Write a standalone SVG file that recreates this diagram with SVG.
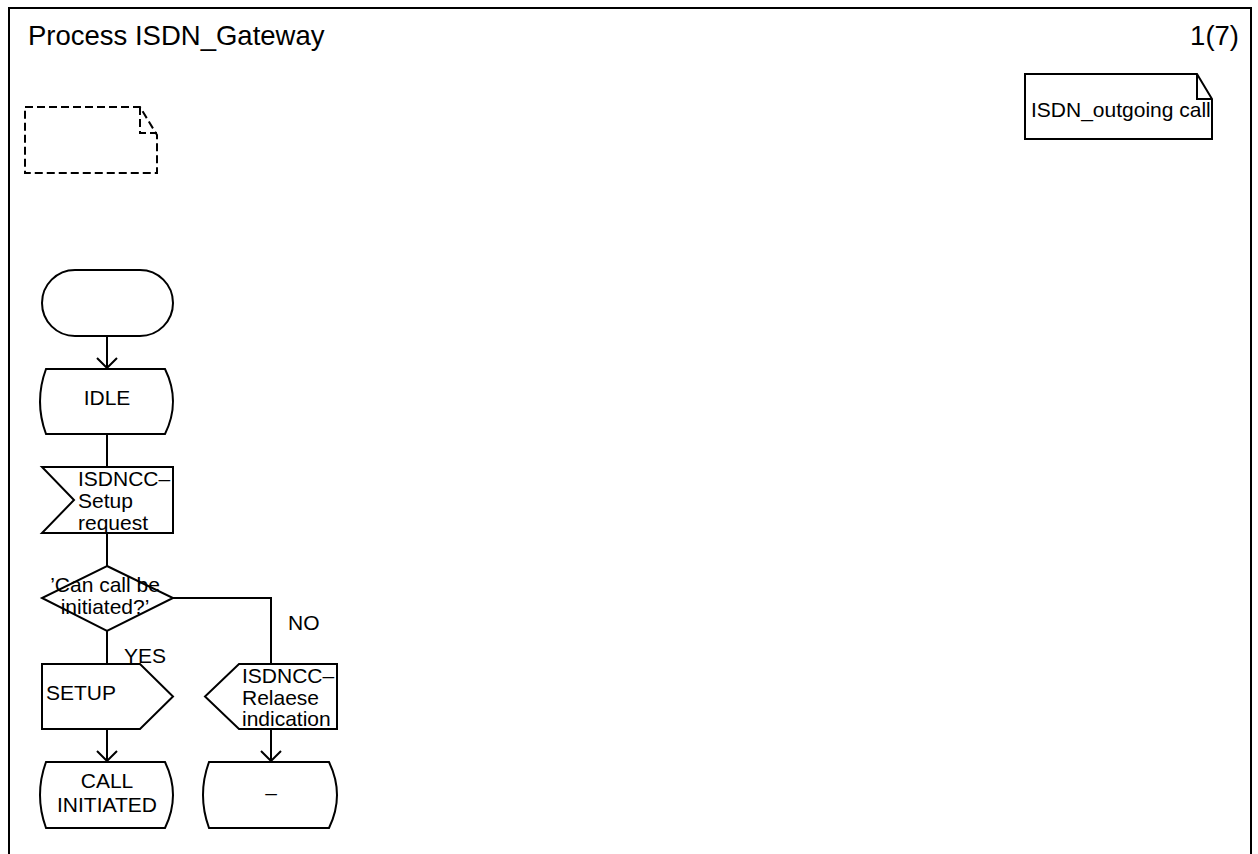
<svg xmlns="http://www.w3.org/2000/svg" width="1258" height="854" viewBox="0 0 1258 854">
  <defs>
    <style>
      .frame { fill: none; stroke: #000; stroke-width: 2; }
      .sym { fill: #fff; stroke: #000; stroke-width: 2; }
      .line { fill: none; stroke: #000; stroke-width: 2; }
      .dash { fill: none; stroke: #000; stroke-width: 2; stroke-dasharray: 8 4; }
      .title { font-family: "Liberation Sans", Arial, sans-serif; font-size: 27.5px; fill: #000; }
      .lbl { font-family: "Liberation Sans", Arial, sans-serif; font-size: 21px; fill: #000; }
      .mid { text-anchor: middle; }
    </style>
    <!-- open V arrowhead, pointing along the path direction -->
    <marker id="open-arrow" viewBox="0 0 12 22" refX="11" refY="11" markerWidth="12" markerHeight="22" markerUnits="userSpaceOnUse" orient="auto">
      <path d="M1,1 L11,11 L1,21" fill="none" stroke="#000" stroke-width="2"/>
    </marker>
  </defs>

  <rect width="1258" height="854" fill="#fff"/>

  <!-- page frame -->
  <g id="frame">
    <path class="frame" d="M9,870 L9,8 L1251,8 L1251,870"/>
    <text class="title" x="28" y="45">Process ISDN_Gateway</text>
    <text class="title" x="1239" y="45" text-anchor="end">1(7)</text>
  </g>

  <!-- empty dashed text symbol -->
  <g id="dashed-note">
    <path class="dash" d="M25,107 L140,107 L157,135 L157,173 L25,173 Z"/>
    <path class="dash" d="M140,107 L140,133 L157,133"/>
  </g>

  <!-- procedure reference note -->
  <g id="note-outgoing">
    <path class="sym" d="M1025,74 L1197,74 L1212,99 L1212,139 L1025,139 Z"/>
    <path class="line" d="M1197,74 L1197,99 L1212,99"/>
    <text class="lbl" x="1031" y="117">ISDN_outgoing call</text>
  </g>

  <!-- connectors -->
  <g id="connectors">
    <path class="line" d="M107,336 L107,368" marker-end="url(#open-arrow)"/>
    <path class="line" d="M107,434 L107,467"/>
    <path class="line" d="M107,533 L107,566"/>
    <path class="line" d="M107,631 L107,664"/>
    <path class="line" d="M173,598 L271,598 L271,664"/>
    <path class="line" d="M107,729 L107,761" marker-end="url(#open-arrow)"/>
    <path class="line" d="M271,729 L271,761" marker-end="url(#open-arrow)"/>
    <text class="lbl" x="124" y="663">YES</text>
    <text class="lbl" x="288" y="630">NO</text>
  </g>

  <!-- start -->
  <g id="start">
    <rect class="sym" x="42" y="270" width="131" height="66" rx="33" ry="33"/>
  </g>

  <!-- state IDLE -->
  <g id="state-idle">
    <path class="sym" d="M46,369 L165,369 Q181,401.5 165,434 L46,434 Q34,401.5 46,369 Z"/>
    <text class="lbl mid" x="107" y="405">IDLE</text>
  </g>

  <!-- input signal -->
  <g id="input-setup-request">
    <path class="sym" d="M42,467 L173,467 L173,533 L42,533 L74,500 Z"/>
    <text class="lbl" x="78" y="486">ISDNCC–</text>
    <text class="lbl" x="78" y="508">Setup</text>
    <text class="lbl" x="78" y="530">request</text>
  </g>

  <!-- decision -->
  <g id="decision">
    <path class="sym" d="M107,566 L173,598 L107,631 L42,598 Z"/>
    <text class="lbl mid" x="105" y="592">’Can call be</text>
    <text class="lbl mid" x="105" y="614">initiated?’</text>
  </g>

  <!-- output SETUP -->
  <g id="output-setup">
    <path class="sym" d="M42,664 L140,664 L173,696.5 L140,729 L42,729 Z"/>
    <text class="lbl" x="46" y="700">SETUP</text>
  </g>

  <!-- output release indication -->
  <g id="output-release">
    <path class="sym" d="M239,664 L337,664 L337,729 L239,729 L205,696.5 Z"/>
    <text class="lbl" x="242" y="683">ISDNCC–</text>
    <text class="lbl" x="242" y="705">Relaese</text>
    <text class="lbl" x="242" y="726">indication</text>
  </g>

  <!-- state CALL INITIATED -->
  <g id="state-call-initiated">
    <path class="sym" d="M46,762 L165,762 Q181,795 165,828 L46,828 Q34,795 46,762 Z"/>
    <text class="lbl mid" x="107" y="788">CALL</text>
    <text class="lbl mid" x="107" y="812">INITIATED</text>
  </g>

  <!-- state dash (unchanged) -->
  <g id="state-dash">
    <path class="sym" d="M209,762 L329,762 Q345,795 329,828 L209,828 Q197,795 209,762 Z"/>
    <text class="lbl mid" x="271" y="800">–</text>
  </g>
</svg>
